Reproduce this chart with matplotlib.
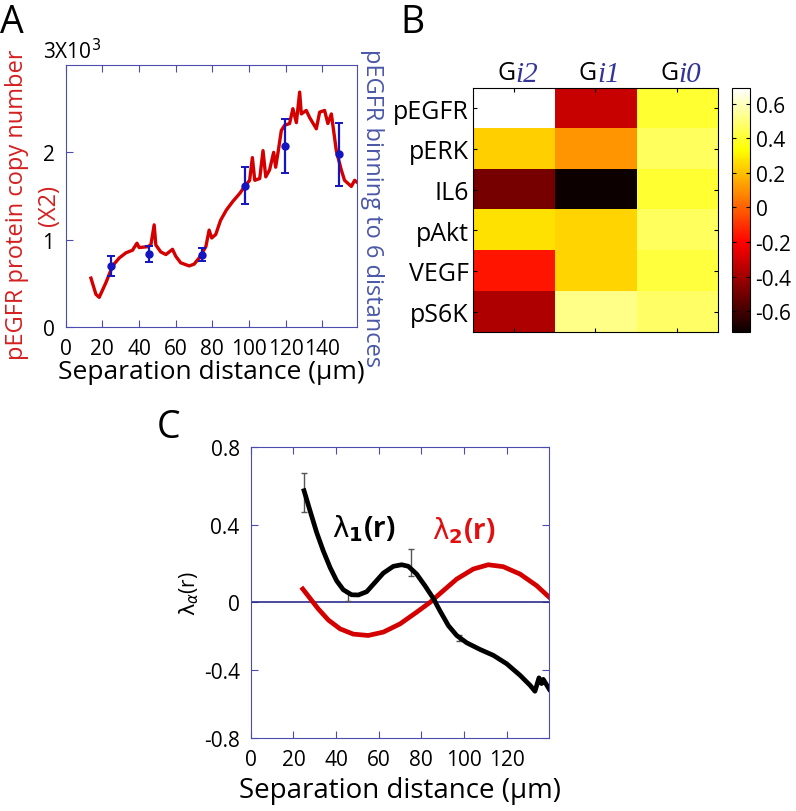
import numpy as np
import matplotlib
matplotlib.use("Agg")
import matplotlib.pyplot as plt

plt.rcParams['font.family'] = ['Open Sans', 'DejaVu Sans']

# ---- panel A data ----
dist_a = [13.8, 16.5, 18.3, 22.0, 25.6, 29.2, 32.9, 36.5, 38.9, 40.1, 44.7, 46.5, 48.3, 49.2,
          51.9, 54.7, 58.3, 60.1, 62.8, 67.4, 70.1, 72.8, 76.5, 78.3, 79.7, 81.9, 84.5, 87.7,
          91.3, 95.0, 97.7, 100.4, 101.9, 103.2, 105.9, 107.7, 109.2, 111.3, 113.5, 114.6,
          115.9, 117.7, 119.5, 122.2, 124.0, 125.9, 127.7, 128.6, 131.3, 133.1, 136.8, 138.6,
          141.3, 143.1, 145.0, 147.7, 150.4, 152.2, 155.9, 157.7, 159.5]
pegfr = [0.56, 0.375, 0.34, 0.51, 0.70, 0.79, 0.85, 0.88, 0.96, 0.91, 0.92, 0.94, 1.17, 0.94,
         0.86, 0.83, 0.89, 0.81, 0.735, 0.70, 0.72, 0.79, 0.92, 1.11, 1.02, 1.06, 1.22, 1.34,
         1.44, 1.53, 1.61, 1.68, 1.94, 1.68, 1.70, 2.02, 1.72, 1.80, 2.00, 1.83,
         2.00, 2.25, 2.31, 2.33, 2.50, 2.34, 2.69, 2.44, 2.48, 2.40, 2.27, 2.46,
         2.48, 2.33, 2.44, 2.02, 1.80, 1.68, 1.61, 1.68, 1.65]

bin_dist = [24.5, 45.6, 74.6, 97.7, 119.5, 149.0]
bin_val = [0.70, 0.84, 0.83, 1.62, 2.07, 1.98]
bin_err = [0.11, 0.09, 0.07, 0.21, 0.31, 0.36]

# ---- panel B data ----
proteins = ['pEGFR', 'pERK', 'IL6', 'pAkt', 'VEGF', 'pS6K']
modes = ['2', '1', '0']
weights = [[0.69, -0.32, 0.40],
           [0.23, 0.11, 0.46],
           [-0.49, -0.71, 0.40],
           [0.27, 0.24, 0.46],
           [-0.16, 0.24, 0.42],
           [-0.37, 0.52, 0.47]]
cbar_ticks = [0.6, 0.4, 0.2, 0, -0.2, -0.4, -0.6]

# ---- panel C data ----
r1 = [25, 27.8, 30.9, 34.0, 37.2, 40.3, 43.4, 47.3, 50.5, 54.4, 58.3, 62.2, 66.9, 70.8,
      73.9, 77.8, 81.7, 85.6, 88.7, 92.7, 96.6, 101.3, 107.5, 113.8, 120, 126.3, 131,
      133.3, 135.2, 136.4, 137.2, 140]
lam1 = [0.576, 0.473, 0.361, 0.266, 0.18, 0.111, 0.065, 0.039, 0.038, 0.055, 0.103, 0.151,
        0.186, 0.194, 0.186, 0.146, 0.086, 0.021, -0.049, -0.137, -0.195, -0.238, -0.277,
        -0.312, -0.361, -0.429, -0.488, -0.523, -0.444, -0.478, -0.453, -0.511]
r2 = [24.4, 27.8, 31.7, 36.4, 41.9, 48.1, 55.1, 62.2, 70, 77.8, 84.1, 90.3, 96.6, 104.4,
      111.4, 118.4, 126.3, 134.1, 140]
lam2 = [0.069, 0.021, -0.039, -0.104, -0.156, -0.187, -0.195, -0.175, -0.127, -0.058, 0.0,
        0.06, 0.12, 0.172, 0.194, 0.184, 0.146, 0.086, 0.026]
err_r = [25, 45.8, 75, 97.7]
err_lam = [0.568, 0.027, 0.206, -0.21]
err_size = [0.1, 0.02, 0.069, 0.015]

axis_blue = '#4b4bb0'

fig = plt.figure(figsize=(7.96, 8.12), dpi=100)

# ================= A =================
axA = fig.add_axes([0.0825, 0.596, 0.366, 0.3227])
axA.plot(dist_a, pegfr, color='#d40000', lw=2.4)
axA.errorbar(bin_dist, bin_val, yerr=bin_err, fmt='o', color='#1414c0', ms=5,
             capsize=3, elinewidth=1.6, capthick=1.4)
axA.set_xlim(0, 159)
axA.set_ylim(0, 3)
axA.set_xticks([0, 20, 40, 60, 80, 100, 120, 140])
axA.set_yticks([0, 1, 2])
axA.tick_params(direction='in', top=True, colors=axis_blue, labelcolor='black',
                labelsize=15, length=5, pad=8)
for s in axA.spines.values():
    s.set_color(axis_blue)
axA.set_xlabel('Separation distance (µm)', fontsize=19, labelpad=0)
fig.text(0.054, 0.921, '3X10$^3$', fontsize=15, ha='left', va='bottom')
fig.text(0.021, 0.7475, 'pEGFR protein copy number', color='#d42020', fontsize=17,
         rotation=90, ha='center', va='center')
fig.text(0.0616, 0.7475, '(X2)', color='#d42020', fontsize=17,
         rotation=90, ha='center', va='center')
fig.text(0.467, 0.744, 'pEGFR binning to 6 distances', color='#4a58a8', fontsize=17,
         rotation=270, ha='center', va='center')
fig.text(0.0, 0.972, 'A', fontsize=27, ha='left', va='center')

# ================= B =================
axB = fig.add_axes([0.5942, 0.5899, 0.3078, 0.3005])
im = axB.imshow(np.array(weights), cmap='hot', vmin=-0.72, vmax=0.69, aspect='auto')
axB.set_yticks(range(len(proteins)))
axB.set_yticklabels(proteins, fontsize=18)
axB.set_xticks(range(len(modes)))
axB.set_xticklabels([])
axB.tick_params(direction='in', top=True, right=True, length=3, pad=3)
for j, m in enumerate(modes):
    axB.text(j + 0.02, -0.72, 'G', fontsize=18, ha='right', va='baseline')
    axB.text(j + 0.02, -0.68, 'i' + m, fontsize=21, color='#33339a', ha='left',
             va='baseline', family='Liberation Serif', style='italic')
cax = fig.add_axes([0.9196, 0.5899, 0.0226, 0.3005])
cb = fig.colorbar(im, cax=cax, ticks=cbar_ticks)
cb.ax.set_yticklabels(['0.6', '0.4', '0.2', '0', '-0.2', '-0.4', '-0.6'])
cb.ax.tick_params(labelsize=15, direction='in', length=3, left=True, pad=4)
fig.text(0.503, 0.972, 'B', fontsize=27, ha='left', va='center')

# ================= C =================
def fwd(y):
    y = np.asarray(y, dtype=float)
    return np.where(y > 0, y * 1.14, y)

def inv(y):
    y = np.asarray(y, dtype=float)
    return np.where(y > 0, y / 1.14, y)

axC = fig.add_axes([0.315, 0.0895, 0.375, 0.3584])
axC.set_yscale('function', functions=(fwd, inv))
axC.axhline(0, color='#2b2b90', lw=1.2)
axC.errorbar(err_r, err_lam, yerr=err_size, fmt='none', ecolor='#555555',
             elinewidth=1, capsize=2.5, capthick=1)
axC.plot(r2, lam2, color='#d40000', lw=3.4)
axC.plot(r1, lam1, color='black', lw=3.4)
axC.set_xlim(0, 140)
axC.set_ylim(-0.8, 0.8)
axC.set_xticks([0, 20, 40, 60, 80, 100, 120])
axC.set_yticks([-0.8, -0.4, 0, 0.4, 0.8])
axC.set_yticklabels(['-0.8', '-0.4', '0', '0.4', '0.8'])
axC.tick_params(direction='in', top=True, right=True, colors=axis_blue,
                labelcolor='black', labelsize=15, length=5, pad=8)
for s in axC.spines.values():
    s.set_color(axis_blue)
axC.set_xlabel('Separation distance (µm)', fontsize=20, labelpad=4)
axC.set_ylabel(r'$\mathrm{\lambda}_\alpha$(r)', fontsize=15, labelpad=2)
axC.text(38, 0.34, r'$\mathrm{\lambda}_{\mathbf{1}}$(r)', fontsize=20, fontweight='bold',
         color='black')
axC.text(85, 0.33, r'$\mathrm{\lambda}_{\mathbf{2}}$(r)', fontsize=20, fontweight='bold',
         color='#e01010')
fig.text(0.197, 0.473, 'C', fontsize=27, ha='left', va='center')

fig.savefig('out.png', dpi=100)
